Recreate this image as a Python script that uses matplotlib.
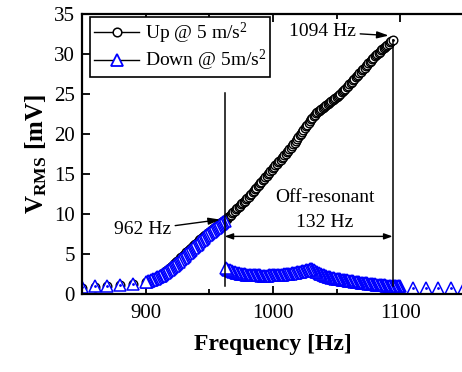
import matplotlib
matplotlib.use("Agg")
import matplotlib.pyplot as plt
from matplotlib.lines import Line2D
from matplotlib.ticker import MultipleLocator

plt.rcParams["font.family"] = "Liberation Serif"
plt.rcParams["mathtext.fontset"] = "custom"
plt.rcParams["mathtext.rm"] = "Liberation Serif"
plt.rcParams["mathtext.it"] = "Liberation Serif:italic"
plt.rcParams["mathtext.bf"] = "Liberation Serif:bold"

# frequency grid: 10 Hz steps outside 900-1100, 1 Hz steps inside
freq = [850, 860, 870, 880, 890] + list(range(900, 1101)) + [1110, 1120, 1130, 1140, 1150]

# up sweep V_RMS (mV)
up_vrms = [0.8, 0.9, 1.0, 1.1, 1.2,
           1.45, 1.5, 1.55, 1.62, 1.7, 1.77, 1.85, 1.92, 2.0, 2.1,
           2.2, 2.3, 2.4, 2.52, 2.65, 2.77, 2.9, 3.02, 3.15, 3.27,
           3.4, 3.55, 3.7, 3.85, 4.0, 4.15, 4.3, 4.45, 4.6, 4.75,
           4.9, 5.05, 5.2, 5.35, 5.5, 5.65, 5.8, 5.95, 6.1, 6.25,
           6.4, 6.55, 6.7, 6.85, 7.0, 7.15, 7.3, 7.42, 7.55, 7.67,
           7.8, 7.92, 8.05, 8.17, 8.3, 8.42, 8.55, 8.67, 8.8, 8.92,
           9.05, 9.17, 9.3, 9.35, 9.4, 9.57, 9.75, 9.92, 10.1, 10.25,
           10.4, 10.57, 10.75, 10.9, 11.05, 11.2, 11.35, 11.5, 11.65, 11.82,
           12.0, 12.17, 12.35, 12.52, 12.7, 12.9, 13.1, 13.27, 13.45, 13.65,
           13.85, 14.05, 14.25, 14.42, 14.6, 14.8, 15.0, 15.17, 15.35, 15.55,
           15.75, 15.92, 16.1, 16.27, 16.45, 16.62, 16.8, 16.97, 17.15, 17.32,
           17.5, 17.7, 17.9, 18.1, 18.3, 18.5, 18.7, 18.92, 19.15, 19.37,
           19.6, 19.82, 20.05, 20.27, 20.5, 20.72, 20.95, 21.17, 21.4, 21.62,
           21.85, 22.05, 22.25, 22.42, 22.6, 22.75, 22.9, 23.02, 23.15, 23.27,
           23.4, 23.5, 23.6, 23.72, 23.85, 23.97, 24.1, 24.22, 24.35, 24.47,
           24.6, 24.75, 24.9, 25.05, 25.2, 25.35, 25.5, 25.67, 25.85, 26.02,
           26.2, 26.37, 26.55, 26.72, 26.9, 27.07, 27.25, 27.42, 27.6, 27.77,
           27.95, 28.12, 28.3, 28.47, 28.65, 28.82, 29.0, 29.17, 29.35, 29.52,
           29.7, 29.85, 30.0, 30.15, 30.3, 30.45, 30.6, 30.75, 30.9, 31.02,
           31.15, 31.3, 31.45, 31.57, 31.7, 0.75, 0.75, 0.75, 0.75, 0.75,
           0.75,
           0.7, 0.7, 0.7, 0.7, 0.7]

# down sweep V_RMS (mV), listed by rising frequency (sweep runs the other way)
down_vrms = [0.9, 0.95, 1.05, 1.15, 1.3,
             1.5, 1.55, 1.6, 1.65, 1.7, 1.77, 1.85, 1.92, 2.0, 2.07,
             2.15, 2.22, 2.3, 2.4, 2.5, 2.6, 2.7, 2.82, 2.95, 3.07,
             3.2, 3.32, 3.45, 3.6, 3.75, 3.9, 4.05, 4.2, 4.35, 4.5,
             4.65, 4.8, 4.95, 5.1, 5.25, 5.4, 5.55, 5.7, 5.85, 6.0,
             6.15, 6.3, 6.45, 6.6, 6.75, 6.9, 7.05, 7.2, 7.35, 7.47,
             7.6, 7.72, 7.85, 7.97, 8.1, 8.22, 8.35, 8.47, 8.6, 8.72,
             8.85, 8.97, 9.1, 3.3, 3.15, 3.05, 2.97, 2.9, 2.84, 2.78,
             2.73, 2.68, 2.64, 2.6, 2.56, 2.53, 2.5, 2.47, 2.45, 2.43,
             2.42, 2.4, 2.38, 2.37, 2.36, 2.35, 2.34, 2.33, 2.33, 2.32,
             2.32, 2.31, 2.31, 2.31, 2.31, 2.31, 2.31, 2.32, 2.32, 2.33,
             2.33, 2.34, 2.35, 2.36, 2.37, 2.38, 2.4, 2.41, 2.43, 2.45,
             2.47, 2.49, 2.51, 2.53, 2.56, 2.58, 2.61, 2.64, 2.67, 2.7,
             2.73, 2.76, 2.8, 2.83, 2.87, 2.91, 2.95, 3.0, 3.05, 3.1,
             3.15, 3.07, 2.98, 2.88, 2.78, 2.69, 2.6, 2.52, 2.45, 2.38,
             2.32, 2.27, 2.22, 2.17, 2.13, 2.09, 2.05, 2.01, 1.97, 1.93,
             1.9, 1.87, 1.85, 1.82, 1.8, 1.77, 1.75, 1.72, 1.7, 1.67,
             1.65, 1.62, 1.6, 1.57, 1.55, 1.52, 1.5, 1.47, 1.45, 1.42,
             1.4, 1.38, 1.36, 1.34, 1.32, 1.3, 1.28, 1.26, 1.24, 1.22,
             1.2, 1.18, 1.17, 1.15, 1.13, 1.12, 1.1, 1.08, 1.07, 1.05,
             1.04, 1.03, 1.02, 1.01, 1.0, 0.99, 0.98, 0.97, 0.96, 0.95,
             0.95,
             0.8, 0.75, 0.75, 0.75, 0.75]

jump_up_hz = 962      # down sweep jumps up here
jump_down_hz = 1094   # up sweep falls off here
band_mv = 7.2

fig = plt.figure(figsize=(4.62, 3.72), dpi=100)
ax = fig.add_axes([0.1775, 0.2097, 0.8265, 0.7527])

ax.plot(freq[:5 + 195], up_vrms[:5 + 195], ls="none", marker="o", ms=6.2,
        mfc="white", mec="black", mew=1.0)
ax.plot(freq[::-1], down_vrms[::-1], ls="none", marker="^", ms=8,
        mfc="white", mec="blue", mew=1.1)

# centre dots on the sparse markers (Origin style)
sparse = [i for i, f in enumerate(freq) if f < 900 or f > 1100]
ax.plot([freq[i] for i in sparse], [down_vrms[i] for i in sparse], ls="none",
        marker=".", ms=2, color="blue")
ax.plot([jump_down_hz], [up_vrms[freq.index(jump_down_hz)]], ls="none",
        marker=".", ms=2, color="black")

# lines marking the jump frequencies
ax.plot([jump_up_hz, jump_up_hz], [1.0, 25.1], color="black", lw=1.1)
ax.plot([jump_down_hz, jump_down_hz], [1.0, 31.7], color="black", lw=1.1)
ax.annotate("", xy=(jump_up_hz, band_mv), xytext=(jump_down_hz, band_mv),
            arrowprops=dict(arrowstyle="<|-|>,head_length=0.5,head_width=0.18",
                            color="black", lw=1.0, shrinkA=0, shrinkB=0))
ax.text(1041, 12.0, "Off-resonant", ha="center", va="center", fontsize=14)
ax.text(1041, 8.9, "132 Hz", ha="center", va="center", fontsize=14)
ax.annotate("962 Hz", xy=(958.5, 9.3), xytext=(897.5, 8.0), ha="center", va="center", fontsize=14,
            arrowprops=dict(arrowstyle="-|>,head_length=0.5,head_width=0.15",
                            color="black", lw=1.0, shrinkA=1, shrinkB=0))
ax.annotate("1094 Hz", xy=(1091, 32.3), xytext=(1039, 32.8), ha="center", va="center", fontsize=14,
            arrowprops=dict(arrowstyle="-|>,head_length=0.5,head_width=0.15",
                            color="black", lw=1.0, shrinkA=1, shrinkB=0))

ax.set_xlim(850, 1150)
ax.set_ylim(0, 35)
ax.xaxis.set_major_locator(MultipleLocator(100))
ax.xaxis.set_minor_locator(MultipleLocator(50))
ax.yaxis.set_major_locator(MultipleLocator(5))
ax.tick_params(which="both", direction="in", top=True, width=1.3, labelsize=15)
ax.tick_params(which="major", length=6)
ax.tick_params(which="minor", length=3.5)
ax.tick_params(axis="x", pad=7)
ax.tick_params(axis="y", pad=5)
for s in ax.spines.values():
    s.set_linewidth(1.6)

ax.set_xlabel("Frequency [Hz]", fontsize=17, fontweight="bold", labelpad=8)
ax.set_ylabel(r"V$_{\mathbf{RMS}}$ [mV]", fontsize=18, fontweight="bold", labelpad=4)

handles = [Line2D([], [], color="black", lw=1.0, marker="o", ms=6.2, mfc="white", mec="black", mew=1.1),
           Line2D([], [], color="black", lw=1.0, marker="^", ms=8, mfc="white", mec="blue", mew=1.3)]
leg = ax.legend(handles, [r"Up @ 5 m/s$^2$", r"Down @ 5m/s$^2$"], loc="upper left",
                bbox_to_anchor=(0.022, 0.99), borderaxespad=0, fontsize=14, fancybox=False,
                edgecolor="black", framealpha=1, handlelength=2.3, handletextpad=0.3,
                borderpad=0.2, labelspacing=0.12)
leg.get_frame().set_linewidth(1.2)

fig.savefig("out.png", dpi=100)
